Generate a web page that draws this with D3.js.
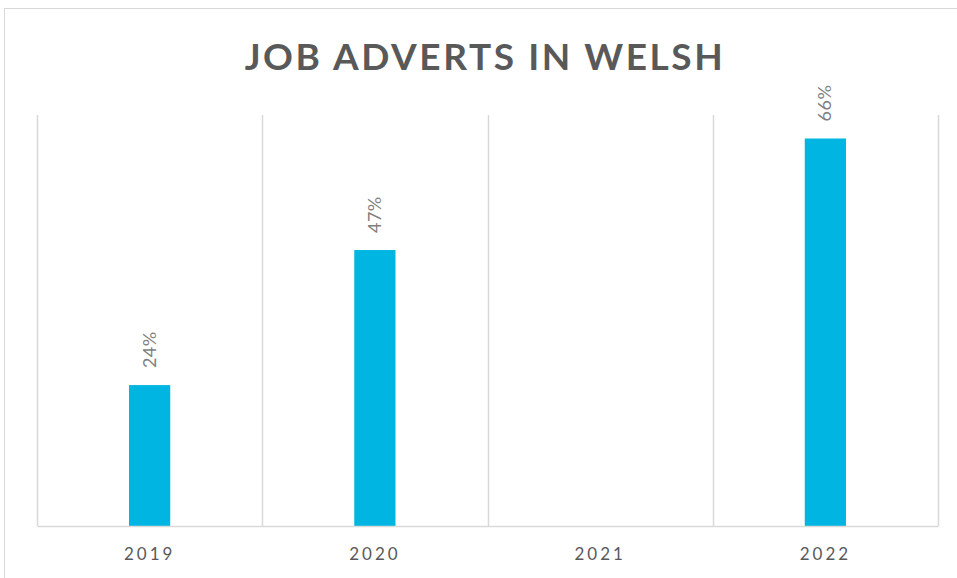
<!DOCTYPE html>
<html>
<head>
<meta charset="utf-8">
<script src="https://cdn.jsdelivr.net/npm/d3@7"></script>
<style>
  body { margin: 0; background: #fff; }
  svg { display: block; }
  text { font-family: Lato, "Open Sans", sans-serif; }
</style>
</head>
<body>
<svg id="chart"></svg>
<script>
const WIDTH = 957;
const HEIGHT = 578;

const years = ['2019', '2020', '2021', '2022'];
const shares = [24, 47, null, 66];
const title = 'JOB ADVERTS IN WELSH';

const data = years.map((year, i) => ({ year: year, value: shares[i] }));

const plot = { left: 37, right: 938, top: 115, bottom: 526 };

const xScale = d3.scaleBand()
  .domain(years)
  .range([plot.left, plot.right])
  .padding(0);

const yScale = d3.scaleLinear()
  .domain([0, 70])
  .range([plot.bottom, plot.top]);

const barWidth = xScale.bandwidth() * 0.183;

const svg = d3.select('#chart')
  .attr('width', WIDTH)
  .attr('height', HEIGHT);

// outer frame
svg.append('rect')
  .attr('x', 4.5)
  .attr('y', 8.5)
  .attr('width', WIDTH)
  .attr('height', HEIGHT)
  .attr('fill', 'none')
  .attr('stroke', '#d9d9d9');

svg.append('text')
  .attr('x', 485)
  .attr('y', 70)
  .attr('text-anchor', 'middle')
  .attr('fill', '#595959')
  .style('font-size', '37px')
  .style('font-weight', 'bold')
  .style('letter-spacing', '2.6px')
  .text(title);

// vertical category separators
const edges = years.map(y => xScale(y)).concat([plot.right]);
svg.append('g')
  .selectAll('line')
  .data(edges)
  .enter()
  .append('line')
  .attr('x1', d => Math.round(d) + 0.5)
  .attr('x2', d => Math.round(d) + 0.5)
  .attr('y1', plot.top)
  .attr('y2', plot.bottom)
  .attr('stroke', '#d9d9d9')
  .attr('stroke-width', 1.5);

// bars
svg.append('g')
  .selectAll('rect')
  .data(data.filter(d => d.value != null))
  .enter()
  .append('rect')
  .attr('x', d => xScale(d.year) + xScale.bandwidth() / 2 - barWidth / 2)
  .attr('y', d => yScale(d.value))
  .attr('width', barWidth)
  .attr('height', d => yScale(0) - yScale(d.value))
  .attr('fill', '#00b5e2');

// data labels
svg.append('g')
  .selectAll('text')
  .data(data.filter(d => d.value != null))
  .enter()
  .append('text')
  .attr('transform', d => `translate(${xScale(d.year) + xScale.bandwidth() / 2 + 6}, ${yScale(d.value) - 17}) rotate(-90)`)
  .attr('text-anchor', 'start')
  .attr('fill', '#7f7f7f')
  .style('font-size', '18px')
  .style('letter-spacing', '0.5px')
  .text(d => d.value + '%');

// bottom axis
const bottomAxis = d3.axisBottom(xScale).tickSize(0).tickPadding(22);
const axisG = svg.append('g')
  .attr('transform', `translate(0, ${plot.bottom})`)
  .call(bottomAxis);
axisG.select('.domain')
  .attr('stroke', '#d9d9d9')
  .attr('stroke-width', 1.5);
axisG.selectAll('text')
  .attr('fill', '#595959')
  .style('font-family', 'Lato, sans-serif')
  .style('font-size', '17px')
  .style('letter-spacing', '3px');
</script>
</body>
</html>
